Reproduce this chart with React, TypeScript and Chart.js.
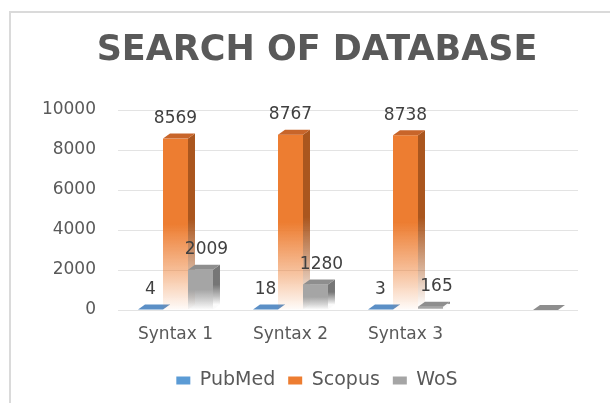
import React, { useEffect, useRef } from 'react';
import { Chart, registerables } from 'chart.js';

Chart.register(...registerables);

const categories = ['Syntax 1', 'Syntax 2', 'Syntax 3', ''];
const seriesNames = ['PubMed', 'Scopus', 'WoS'];
const pubmedValues = [4, 18, 3, null];
const scopusValues = [8569, 8767, 8738, null];
const wosValues = [2009, 1280, 165, 0];
const yMin = 0;
const yMax = 10000;
const yStep = 2000;
const titleText = 'SEARCH OF DATABASE';

const FRONT_RGB = [
  [91, 155, 213],
  [237, 125, 49],
  [165, 165, 165],
];
const SIDE_RGB = [
  [65, 113, 156],
  [170, 86, 30],
  [118, 118, 118],
];
const TOP_COLOR = ['#5B8FC6', '#C8652A', '#8E8E8E'];
const LABEL_DX = [0, 0, 6];
const DEPTH_X = 7;
const DEPTH_Y = 5;
const FONT = 'DejaVu Sans';

function rgba(c: number[], a: number) {
  return `rgba(${c[0]},${c[1]},${c[2]},${a})`;
}

function fadeGradient(ctx: CanvasRenderingContext2D, top: number, bottom: number, c: number[]) {
  const g = ctx.createLinearGradient(0, top, 0, bottom);
  g.addColorStop(0, rgba(c, 1));
  g.addColorStop(0.5, rgba(c, 1));
  g.addColorStop(0.8, rgba(c, 0.45));
  g.addColorStop(1, rgba(c, 0.03));
  return g;
}

const bars3d = {
  id: 'bars3d',
  beforeDatasetDraw() {
    return false;
  },
  afterDatasetsDraw(chart: any) {
    const ctx: CanvasRenderingContext2D = chart.ctx;
    const n = chart.data.labels.length;
    const labels: { text: string; x: number; y: number }[] = [];
    ctx.save();
    for (let i = 0; i < n; i++) {
      chart.data.datasets.forEach((ds: any, d: number) => {
        const v = ds.data[i];
        if (v == null) return;
        const meta = chart.getDatasetMeta(d);
        const el = meta.data[i];
        if (!el) return;
        const p = el.getProps(['x', 'y', 'base', 'width'], true);
        const left = p.x - p.width / 2;
        const right = p.x + p.width / 2;
        const top = Math.min(p.y, p.base);
        const bottom = Math.max(p.y, p.base);
        const h = Math.max(bottom - top, 0.01);
        // side face
        ctx.beginPath();
        ctx.moveTo(right, bottom);
        ctx.lineTo(right + DEPTH_X, bottom - DEPTH_Y);
        ctx.lineTo(right + DEPTH_X, top - DEPTH_Y);
        ctx.lineTo(right, top);
        ctx.closePath();
        ctx.fillStyle = fadeGradient(ctx, top - DEPTH_Y, top - DEPTH_Y + h, SIDE_RGB[d]);
        ctx.fill();
        // front face
        if (bottom - top > 0.5) {
          ctx.fillStyle = fadeGradient(ctx, top, bottom, FRONT_RGB[d]);
          ctx.fillRect(left, top, right - left, bottom - top);
        }
        // top face
        ctx.beginPath();
        ctx.moveTo(left, top);
        ctx.lineTo(left + DEPTH_X, top - DEPTH_Y);
        ctx.lineTo(right + DEPTH_X, top - DEPTH_Y);
        ctx.lineTo(right, top);
        ctx.closePath();
        ctx.fillStyle = TOP_COLOR[d];
        ctx.fill();
        if (v !== 0) {
          labels.push({ text: String(v), x: p.x + LABEL_DX[d], y: top - 20 });
        }
      });
    }
    ctx.font = `17px "${FONT}"`;
    ctx.fillStyle = '#404040';
    ctx.textAlign = 'center';
    ctx.textBaseline = 'middle';
    labels.forEach((l) => ctx.fillText(l.text, l.x, l.y));
    ctx.restore();
  },
};

export default function App() {
  const ref = useRef<HTMLCanvasElement>(null);
  useEffect(() => {
    if (!ref.current) return;
    const chart = new Chart(ref.current, {
      type: 'bar',
      data: {
        labels: categories,
        datasets: [
          { label: seriesNames[0], data: pubmedValues, backgroundColor: '#5B9BD5', borderWidth: 0 },
          { label: seriesNames[1], data: scopusValues, backgroundColor: '#ED7D31', borderWidth: 0 },
          { label: seriesNames[2], data: wosValues, backgroundColor: '#A5A5A5', borderWidth: 0 },
        ],
      },
      options: {
        animation: false,
        responsive: false,
        devicePixelRatio: 1,
        layout: { padding: { left: 40, right: 16, top: 0, bottom: 3 } },
        datasets: { bar: { categoryPercentage: 0.652, barPercentage: 1 } },
        plugins: {
          title: {
            display: true,
            text: titleText,
            color: '#595959',
            font: { family: FONT, size: 35, weight: 'bold' },
            padding: { top: 30, bottom: 38 },
          },
          legend: {
            position: 'bottom',
            labels: {
              boxWidth: 14,
              boxHeight: 8,
              padding: 13,
              color: '#595959',
              font: { family: FONT, size: 19 },
            },
          },
          tooltip: { enabled: false },
        },
        scales: {
          x: {
            grid: { display: false },
            border: { display: false },
            ticks: { color: '#595959', font: { family: FONT, size: 17 }, padding: 6 },
            afterFit: (s: any) => {
              s.height = 48;
            },
          },
          y: {
            min: yMin,
            max: yMax,
            ticks: {
              stepSize: yStep,
              color: '#595959',
              font: { family: FONT, size: 17 },
              padding: 22,
              callback: (v: any) => String(v),
            },
            grid: { color: '#E3E3E3', drawTicks: false },
            border: { display: false },
            afterFit: (s: any) => {
              s.width = 78;
            },
          },
          yRight: {
            position: 'right',
            min: yMin,
            max: yMax,
            display: true,
            grid: { display: false, drawTicks: false },
            border: { display: false },
            ticks: { display: false },
            afterFit: (s: any) => {
              s.width = 16;
            },
          },
        },
      },
      plugins: [bars3d],
    } as any);
    return () => chart.destroy();
  }, []);

  return (
    <div style={{ position: 'fixed', left: 0, top: 0, width: 610, height: 403, background: '#fff' }}>
      <div
        style={{
          position: 'absolute',
          left: 9,
          top: 11,
          width: 601,
          height: 392,
          borderLeft: '2px solid #DADADA',
          borderTop: '2px solid #DADADA',
          boxSizing: 'border-box',
        }}
      />
      <canvas ref={ref} width={610} height={403} style={{ position: 'absolute', left: 0, top: 0 }} />
    </div>
  );
}
